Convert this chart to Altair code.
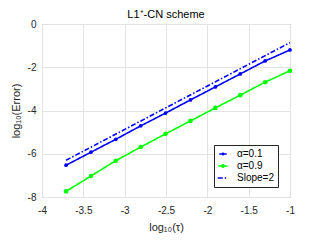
import altair as alt
import pandas as pd

log_tau = [-1.0, -1.301, -1.602, -1.903, -2.204, -2.505, -2.806, -3.107, -3.408, -3.709]
err_a01 = [-1.20, -1.71, -2.31, -2.91, -3.51, -4.12, -4.71, -5.33, -5.93, -6.53]
err_a09 = [-2.16, -2.69, -3.29, -3.88, -4.48, -5.08, -5.69, -6.32, -7.03, -7.74]
slope_x = [-1.0, -3.709]
slope_y = [-0.86, -6.30]

series = ["α=0.1", "α=0.9", "Slope=2"]
colors = ["#0000ff", "#00ff00", "#0000ff"]
dashes = [[1, 0], [1, 0], [5, 2, 1.5, 2]]
legend_paths = [
    "M-2,0H2M-0.36,0A0.36,0.36,0,1,0,0.36,0A0.36,0.36,0,1,0,-0.36,0Z",
    "M-2,0H2M-0.5,0A0.5,0.5,0,1,0,0.5,0A0.5,0.5,0,1,0,-0.5,0Z",
    "M-2,0H2",
]

rows = []
for x, y in zip(log_tau, err_a01):
    rows.append({"x": x, "y": y, "s": series[0]})
for x, y in zip(log_tau, err_a09):
    rows.append({"x": x, "y": y, "s": series[1]})
for x, y in zip(slope_x, slope_y):
    rows.append({"x": x, "y": y, "s": series[2]})
df = pd.DataFrame(rows)

xscale = alt.Scale(domain=[-4, -1], nice=False)
yscale = alt.Scale(domain=[-8, 0], nice=False)
xenc = alt.X("x:Q", scale=xscale,
             axis=alt.Axis(title="log₁₀(τ)", values=[-4, -3.5, -3, -2.5, -2, -1.5, -1],
                           labelExpr="datum.value + ''",
                           labelFlush=False, labelPadding=8, titlePadding=6))
yenc = alt.Y("y:Q", scale=yscale,
             axis=alt.Axis(title="log₁₀(Error)", values=[-8, -6, -4, -2, 0],
                           labelExpr="datum.value + ''",
                           labelFlush=False, labelPadding=6, titlePadding=6))

cscale = alt.Scale(domain=series, range=colors)

legend = alt.Legend(
    title=None, orient="none", legendX=172, legendY=121,
    fillColor="white", strokeColor="#262626", padding=4,
    labelFont="Liberation Sans", labelFontSize=10, labelColor="#000000",
    labelOffset=9, rowPadding=2,
)

leg_layer = alt.Chart(df).transform_filter("datum.x > 100").mark_point(
    filled=True, opacity=1, size=121, strokeWidth=1.5
).encode(
    x=xenc, y=yenc,
    color=alt.Color("s:N", scale=cscale, legend=legend),
    stroke=alt.Stroke("s:N", scale=cscale, legend=legend),
    shape=alt.Shape("s:N", scale=alt.Scale(domain=series, range=legend_paths), legend=legend),
    strokeDash=alt.StrokeDash("s:N", scale=alt.Scale(domain=series, range=dashes), legend=legend),
)

lines = alt.Chart(df).mark_line().encode(
    x=xenc, y=yenc,
    color=alt.Color("s:N", scale=cscale, legend=None),
    strokeDash=alt.StrokeDash("s:N", scale=alt.Scale(domain=series, range=dashes), legend=None),
    strokeWidth=alt.StrokeWidth("s:N", scale=alt.Scale(domain=series, range=[1.6, 1.6, 0.9]), legend=None),
)

pts = alt.Chart(df).transform_filter(
    alt.FieldOneOfPredicate(field="s", oneOf=series[:2])
).mark_point(filled=True, opacity=1).encode(
    x=xenc, y=yenc,
    color=alt.Color("s:N", scale=cscale, legend=None),
    size=alt.Size("s:N", scale=alt.Scale(domain=series, range=[14, 28, 0]), legend=None),
)

chart = alt.layer(leg_layer, lines, pts).properties(
    width=248, height=173,
    title=alt.TitleParams("L1⁺-CN scheme", font="Liberation Sans", fontSize=11,
                          fontWeight="normal", color="#000000", offset=6, dy=7,
                          frame="group"),
    autosize=alt.AutoSizeParams(type="none"),
    padding={"left": 34, "top": 16, "right": 23, "bottom": 36},
).resolve_scale(
    color="shared", stroke="shared", shape="shared", strokeDash="shared"
).configure_view(
    stroke="#808080", strokeWidth=1
).configure_axis(
    domain=False, ticks=False, tickSize=0, grid=True, gridColor="#e3e3e3",
    labelFont="Liberation Sans", labelFontSize=10, labelColor="#262626",
    titleFont="Liberation Sans", titleFontSize=11, titleFontWeight="normal", titleColor="#262626",
)

chart.save("out.html", embed_options={"renderer": "svg", "actions": False})
